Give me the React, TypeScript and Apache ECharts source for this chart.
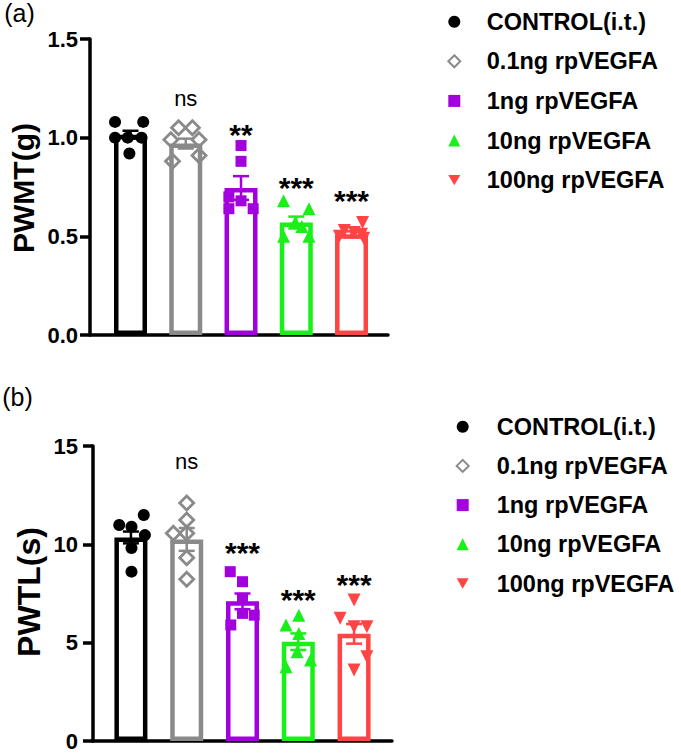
import React, { useEffect, useRef } from "react";
import * as echarts from "echarts";

// ---------- data ----------
const groups = ["CONTROL(i.t.)", "0.1ng rpVEGFA", "1ng rpVEGFA", "10ng rpVEGFA", "100ng rpVEGFA"];
const groupColors = ["#000000", "#8a8a8a", "#a200dc", "#19f019", "#ff4444"];
const groupSymbols = ["circle", "diamond", "rect", "triangle", "triangle"];
const downTriangleIcon = "path://M0,0 L10,0 L5,8.66 Z";

// panel (a) PWMT (g)
const pwmtTicks = [0, 0.5, 1.0, 1.5];
const pwmtMean = [1.015, 0.97, 0.745, 0.57, 0.51];
const pwmtSem = [0.02, 0.025, 0.06, 0.03, 0.015];
const pwmtControl = [[-0.28, 1.08], [0.23, 1.08], [-0.28, 1.0], [-0.05, 1.0], [0.2, 1.0], [-0.02, 0.92]];
const pwmt01 = [[-0.13, 1.05], [0.12, 1.05], [-0.27, 0.99], [0.24, 0.99], [-0.24, 0.88], [0.24, 0.91]];
const pwmt1 = [[0, 0.96], [0, 0.88], [0, 0.68], [-0.22, 0.7], [-0.22, 0.64], [0.22, 0.64]];
const pwmt10 = [[-0.23, 0.68], [0.23, 0.64], [-0.02, 0.57], [0.1, 0.55], [-0.23, 0.5], [0.23, 0.5]];
const pwmt100 = [[0.2, 0.57], [-0.13, 0.53], [0.05, 0.52], [0.18, 0.51], [-0.22, 0.5], [0.22, 0.49]];
const pwmtSig = ["", "ns", "**", "***", "***"];
const pwmtSigY = [null, 1.197, 1.014, 0.75, 0.684];

// panel (b) PWTL (s)
const pwtlTicks = [0, 5, 10, 15];
const pwtlMean = [10.35, 10.25, 7.1, 5.05, 5.45];
const pwtlSem = [0.3, 0.58, 0.4, 0.42, 0.5];
const pwtlControl = [[-0.21, 10.98], [0.01, 10.9], [0.23, 11.49], [0.25, 10.47], [0.01, 9.81], [0.01, 8.61]];
const pwtl01 = [[0, 12.1], [0, 11.24], [-0.24, 10.56], [0, 10.56], [0, 9.32], [0, 8.22]];
const pwtl1 = [[-0.22, 8.61], [0, 8.1], [0, 7.25], [0, 6.49], [0.21, 6.4], [-0.21, 5.9]];
const pwtl10 = [[0.01, 6.4], [-0.22, 5.9], [0.01, 5.47], [-0.02, 4.54], [-0.22, 3.78], [0.22, 4.12]];
const pwtl100 = [[0, 7.17], [-0.25, 6.24], [0, 5.81], [0.23, 5.81], [0.23, 4.29], [0, 3.61]];
const pwtlSig = ["", "ns", "***", "***", "***"];
const pwtlSigY = [null, 14.21, 9.56, 7.22, 7.98];

const FONT = "'Liberation Sans', Arial, Helvetica, sans-serif";

function panelSeries(
  p: number,
  means: number[],
  sems: number[],
  pts: number[][][],
  sig: string[],
  sigY: (number | null)[]
): any[] {
  const out: any[] = [];
  out.push({
    type: "bar",
    name: "bars" + p,
    xAxisIndex: p,
    yAxisIndex: p,
    barWidth: 33,
    z: 2,
    data: means.map((m, i) => ({
      value: [i, m],
      itemStyle: { color: "#ffffff", borderColor: groupColors[i], borderWidth: 4.5 },
    })),
  });
  out.push({
    type: "custom",
    name: "err" + p,
    xAxisIndex: p,
    yAxisIndex: p,
    z: 3,
    data: means.map((m, i) => [i, m, sems[i]]),
    renderItem: (params: any, api: any) => {
      const i = api.value(0);
      const m = api.value(1);
      const s = api.value(2);
      const top = api.coord([i, m + s]);
      const bot = api.coord([i, m - s]);
      const c = groupColors[params.dataIndex];
      const hw = 8;
      const st = { stroke: c, lineWidth: 2.5 };
      return {
        type: "group",
        children: [
          { type: "line", shape: { x1: top[0], y1: top[1], x2: bot[0], y2: bot[1] }, style: st },
          { type: "line", shape: { x1: top[0] - hw, y1: top[1], x2: top[0] + hw, y2: top[1] }, style: st },
          { type: "line", shape: { x1: bot[0] - hw, y1: bot[1], x2: bot[0] + hw, y2: bot[1] }, style: st },
        ],
      };
    },
  });
  pts.forEach((arr, g) => {
    const hollow = g === 1;
    out.push({
      type: "scatter",
      name: groups[g],
      xAxisIndex: p,
      yAxisIndex: p,
      z: 4,
      symbol: groupSymbols[g],
      symbolRotate: g === 4 ? 180 : 0,
      symbolSize: g === 0 ? 12 : g === 1 ? 14 : g === 2 ? 11 : 13,
      itemStyle: hollow
        ? { color: "rgba(255,255,255,0)", borderColor: groupColors[g], borderWidth: 2.8, opacity: 1 }
        : { color: groupColors[g], opacity: 1 },
      data: arr.map((d) => [g + d[0], d[1]]),
    });
  });
  const sigShown = sig.filter((_, i) => sigY[i] != null);
  out.push({
    type: "custom",
    name: "sig" + p,
    xAxisIndex: p,
    yAxisIndex: p,
    z: 5,
    data: sig
      .map((t, i) => (sigY[i] == null ? null : [i, sigY[i] as number]))
      .filter((d) => d != null),
    renderItem: (params: any, api: any) => {
      const pt = api.coord([api.value(0), api.value(1)]);
      const t = sigShown[params.dataIndex];
      const isNs = t === "ns";
      return {
        type: "text",
        x: pt[0],
        y: pt[1],
        style: {
          text: t,
          fill: "#000",
          align: "center",
          verticalAlign: "middle",
          font: (isNs ? "normal 22px " : "bold 30px ") + FONT,
        },
      };
    },
  });
  return out;
}

function yAxisFor(p: number, max: number, interval: number, digits: number, margin: number): any {
  return {
    type: "value",
    gridIndex: p,
    min: 0,
    max,
    interval,
    axisLine: { show: true, onZero: false, lineStyle: { color: "#000", width: 3.5 } },
    axisTick: { show: true, inside: false, length: 10, lineStyle: { color: "#000", width: 3.5 } },
    axisLabel: {
      margin,
      color: "#000",
      fontFamily: FONT,
      fontWeight: "bold",
      fontSize: 22,
      formatter: (v: number) => v.toFixed(digits),
    },
    splitLine: { show: false },
  };
}

function xAxisFor(p: number, min: number, max: number): any {
  return {
    type: "value",
    gridIndex: p,
    min,
    max,
    axisLine: { show: true, onZero: false, lineStyle: { color: "#000", width: 3.5 } },
    axisTick: { show: false },
    axisLabel: { show: false },
    splitLine: { show: false },
  };
}

function legendFor(left: number, top: number, gap: number, pad: number): any {
  return {
    orient: "vertical",
    left,
    top,
    padding: 0,
    itemWidth: 12,
    itemHeight: 12,
    itemGap: gap,
    selectedMode: false,
    data: groups.map((g, i) => (i === 4 ? { name: g, icon: downTriangleIcon } : { name: g })),
    textStyle: {
      color: "#000",
      fontFamily: FONT,
      fontWeight: "bold",
      fontSize: 23.5,
      lineHeight: 24,
      padding: [0, 0, 0, pad],
    },
  };
}

export default function App() {
  const ref = useRef<HTMLDivElement>(null);
  useEffect(() => {
    if (!ref.current) return;
    const chart = echarts.init(ref.current, null, { renderer: "svg" });
    const option: any = {
      animation: false,
      backgroundColor: "#ffffff",
      grid: [
        { left: 90, top: 39, width: 298, height: 296 },
        { left: 93, top: 446, width: 299, height: 295 },
      ],
      xAxis: [xAxisFor(0, -0.733, 4.66), xAxisFor(1, -0.68, 4.68)],
      yAxis: [
        yAxisFor(0, pwmtTicks[pwmtTicks.length - 1], pwmtTicks[1] - pwmtTicks[0], 1, 12),
        yAxisFor(1, pwtlTicks[pwtlTicks.length - 1], pwtlTicks[1] - pwtlTicks[0], 0, 15),
      ],
      legend: [legendFor(447.3, 9.7, 15.6, 21.5), legendFor(455.7, 414.7, 15.2, 23)],
      graphic: [
        {
          type: "text",
          x: 19.5,
          y: 13,
          style: { text: "(a)", font: "normal 25px " + FONT, fill: "#000", align: "center", verticalAlign: "middle" },
        },
        {
          type: "text",
          x: 17.5,
          y: 397,
          style: { text: "(b)", font: "normal 25px " + FONT, fill: "#000", align: "center", verticalAlign: "middle" },
        },
        {
          type: "text",
          x: 23,
          y: 188,
          rotation: Math.PI / 2,
          style: { text: "PWMT(g)", font: "bold 30px " + FONT, fill: "#000", align: "center", verticalAlign: "middle" },
        },
        {
          type: "text",
          x: 29,
          y: 592,
          rotation: Math.PI / 2,
          style: { text: "PWTL(s)", font: "bold 32px " + FONT, fill: "#000", align: "center", verticalAlign: "middle" },
        },
      ],
      series: [
        ...panelSeries(0, pwmtMean, pwmtSem, [pwmtControl, pwmt01, pwmt1, pwmt10, pwmt100], pwmtSig, pwmtSigY),
        ...panelSeries(1, pwtlMean, pwtlSem, [pwtlControl, pwtl01, pwtl1, pwtl10, pwtl100], pwtlSig, pwtlSigY),
      ],
    };
    chart.setOption(option);
    return () => chart.dispose();
  }, []);
  return (
    <div
      ref={ref}
      style={{ position: "absolute", left: 0, top: 0, width: 681, height: 753, background: "#fff" }}
    />
  );
}
